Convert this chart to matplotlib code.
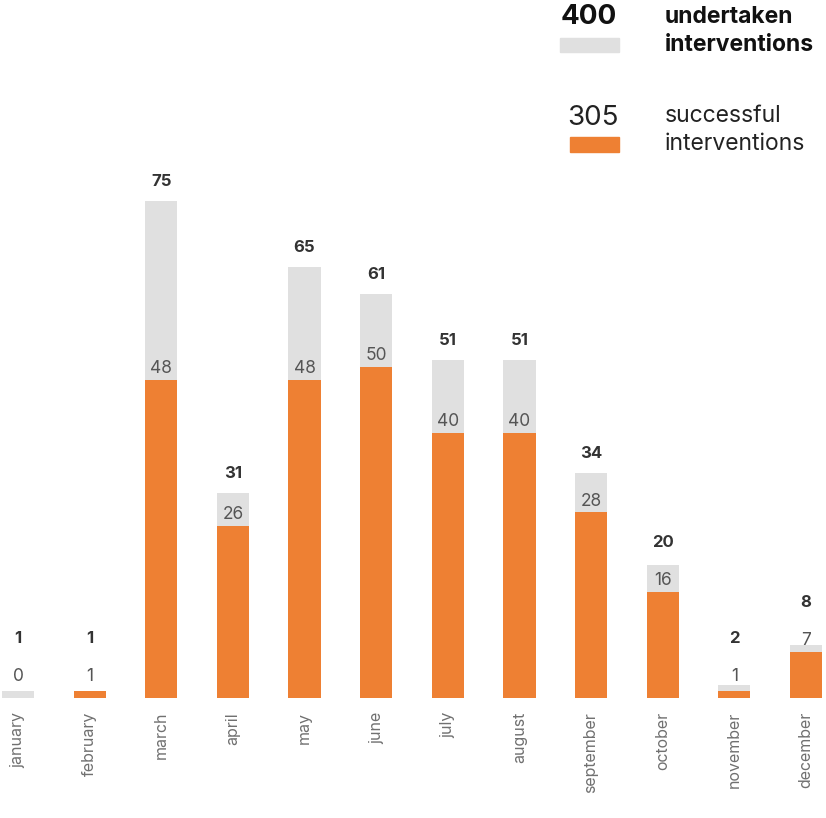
import matplotlib
matplotlib.use('Agg')
import matplotlib.pyplot as plt
from matplotlib.patches import Rectangle

plt.rcParams['font.family'] = ['Inter', 'DejaVu Sans']

# monthly interventions
months = ['january', 'february', 'march', 'april', 'may', 'june',
          'july', 'august', 'september', 'october', 'november', 'december']
undertaken = [1, 1, 75, 31, 65, 61, 51, 51, 34, 20, 2, 8]
successful = [0, 1, 48, 26, 48, 50, 40, 40, 28, 16, 1, 7]

GREY = '#e0e0e0'
ORANGE = '#ee8033'

fig = plt.figure(figsize=(8.26, 8.18), dpi=100)
ax = fig.add_axes([0, 120 / 818, 1, 698 / 818])

x = range(len(months))
ax.bar(x, undertaken, width=0.45, color=GREY)
ax.bar(x, successful, width=0.45, color=ORANGE)

ax.set_xlim(-0.251, 11.279)
ax.set_ylim(0, 105.3)

for i, (tot, suc) in enumerate(zip(undertaken, successful)):
    s_anchor = max(suc, 1.5)
    ax.annotate(str(suc), (i, s_anchor), xytext=(0, 2), textcoords='offset points',
                ha='center', va='bottom', fontsize=12.5, color='#555555')
    t_anchor = max(tot, s_anchor + 4.5)
    ax.annotate(str(tot), (i, t_anchor), xytext=(0, 8.5), textcoords='offset points',
                ha='center', va='bottom', fontsize=12, fontweight='bold', color='#333333')

ax.set_xticks(list(x))
ax.set_xticklabels(months, rotation=90, fontsize=11.5, color='#707070')
ax.tick_params(axis='x', length=0, pad=10)
ax.set_yticks([])
for sp in ax.spines.values():
    sp.set_visible(False)

# legend block, top right
fig.text(589 / 826, 1 - 17 / 818, '400', ha='center', va='center', fontsize=20,
         fontweight='bold', color='#111111')
fig.patches.append(Rectangle((560 / 826, 1 - 52 / 818), 59 / 826, 14 / 818,
                             transform=fig.transFigure, color=GREY))
fig.text(665 / 826, 1 - 31 / 818, 'undertaken\ninterventions', ha='left', va='center',
         fontsize=16.5, fontweight='bold', color='#111111', linespacing=1.4)

fig.text(593 / 826, 1 - 118 / 818, '305', ha='center', va='center', fontsize=20,
         color='#222222')
fig.patches.append(Rectangle((570 / 826, 1 - 152 / 818), 49 / 826, 15 / 818,
                             transform=fig.transFigure, color=ORANGE))
fig.text(665 / 826, 1 - 130 / 818, 'successful\ninterventions', ha='left', va='center',
         fontsize=16.5, color='#222222', linespacing=1.4)

fig.savefig('out.png', dpi=100)
